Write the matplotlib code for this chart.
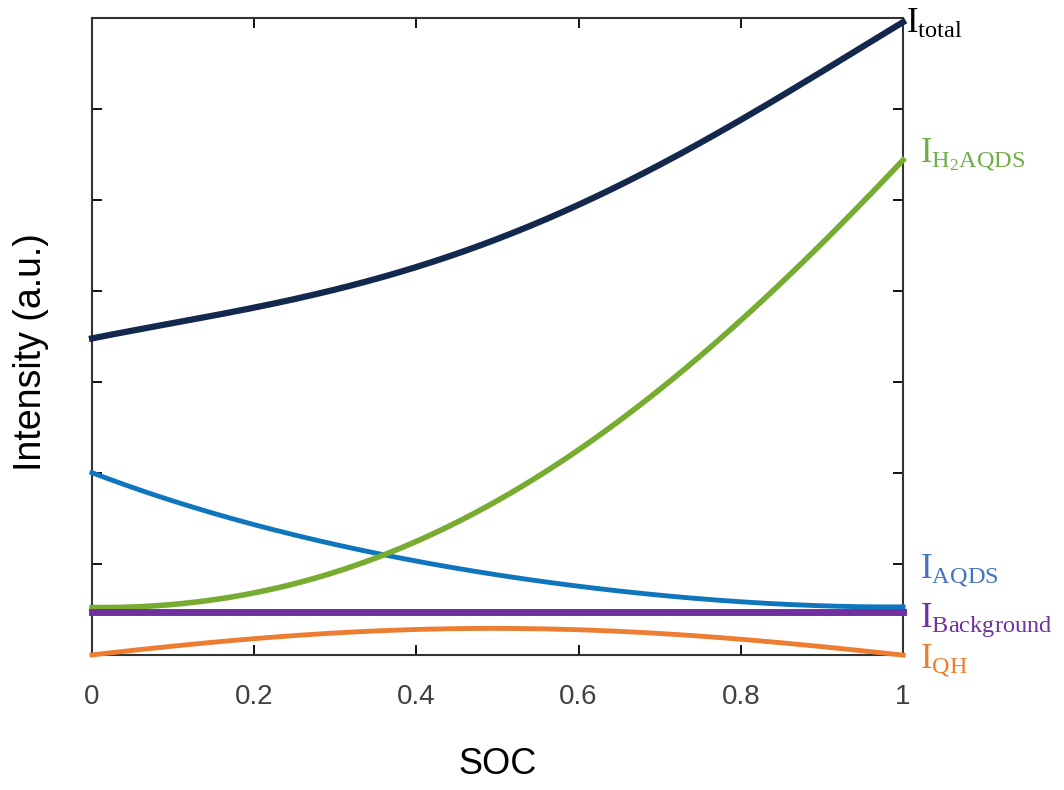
import numpy as np
import matplotlib.pyplot as plt

plt.rcParams['font.family'] = ['Liberation Sans', 'DejaVu Sans']
plt.rcParams['mathtext.fontset'] = 'custom'
plt.rcParams['mathtext.rm'] = 'Liberation Serif'
plt.rcParams['mathtext.it'] = 'Liberation Serif:italic'

# values (intensity in tick units)
soc = [0.0, 0.1, 0.2, 0.3, 0.4, 0.5, 0.6, 0.7, 0.8, 0.9, 1.0]
i_total = [3.48, 3.64, 3.83, 4.02, 4.25, 4.57, 4.95, 5.40, 5.88, 6.40, 6.96]
i_h2aqds = [0.52, 0.56, 0.68, 0.91, 1.25, 1.70, 2.25, 2.92, 3.68, 4.52, 5.44]
i_aqds = [2.00, 1.70, 1.43, 1.21, 1.03, 0.88, 0.76, 0.66, 0.58, 0.54, 0.53]
i_background = [0.47] * 11
i_qh = [0.00, 0.10, 0.18, 0.24, 0.28, 0.29, 0.28, 0.24, 0.17, 0.09, 0.00]

x = np.linspace(0, 1, 201)
def smooth(y):
    c = np.polyfit(soc, y, 4)
    return np.polyval(c, x)

fig = plt.figure(figsize=(10.64, 7.9), dpi=100)
ax = fig.add_axes([0.0865, 0.1709, 0.7622, 0.8063])

ax.plot(x, smooth(i_qh), color='#ed7d31', lw=3.5, clip_on=False, zorder=3)
ax.plot(x, smooth(i_background), color='#7030a0', lw=5, clip_on=False, zorder=4)
ax.plot(x, smooth(i_aqds), color='#0f75bc', lw=3.5, clip_on=False, zorder=3)
ax.plot(x, smooth(i_h2aqds), color='#77ac30', lw=4, clip_on=False, zorder=3)
ax.plot(x, smooth(i_total), color='#13284d', lw=4.5, clip_on=False, zorder=3)

ax.set_xlim(0, 1)
ax.set_ylim(0, 7)
ax.set_xticks([0, 0.2, 0.4, 0.6, 0.8, 1])
ax.set_xticklabels(['0', '0.2', '0.4', '0.6', '0.8', '1'])
ax.set_yticks([1, 2, 3, 4, 5, 6])
ax.set_yticklabels([])
ax.tick_params(direction='in', length=7, width=1.3, top=True, right=True,
               labelsize=20, labelcolor='#404040', pad=21)
for s in ax.spines.values():
    s.set_linewidth(1.5)
    s.set_color('#333333')

ax.set_xlabel('SOC', fontsize=26)
ax.xaxis.set_label_coords(0.5, -0.145)
ax.set_ylabel('Intensity (a.u.)', fontsize=27)
ax.yaxis.set_label_coords(-0.053, 0.476)

lab = dict(transform=ax.transAxes, fontsize=25, va='baseline', ha='left', clip_on=False)
ax.text(1.004, 0.976, r'$\mathrm{I}_{\mathrm{total}}$', color='black', **lab)
ax.text(1.021, 0.774, r'$\mathrm{I}_{\mathrm{H}_2\mathrm{AQDS}}$', color='#70ad47', **lab)
ax.text(1.021, 0.122, r'$\mathrm{I}_{\mathrm{AQDS}}$', color='#4472c4', **lab)
ax.text(1.021, 0.044, r'$\mathrm{I}_{\mathrm{Background}}$', color='#7030a0', **lab)
ax.text(1.021, -0.020, r'$\mathrm{I}_{\mathrm{QH}}$', color='#ed7d31', **lab)

fig.savefig('out.png', dpi=100)
